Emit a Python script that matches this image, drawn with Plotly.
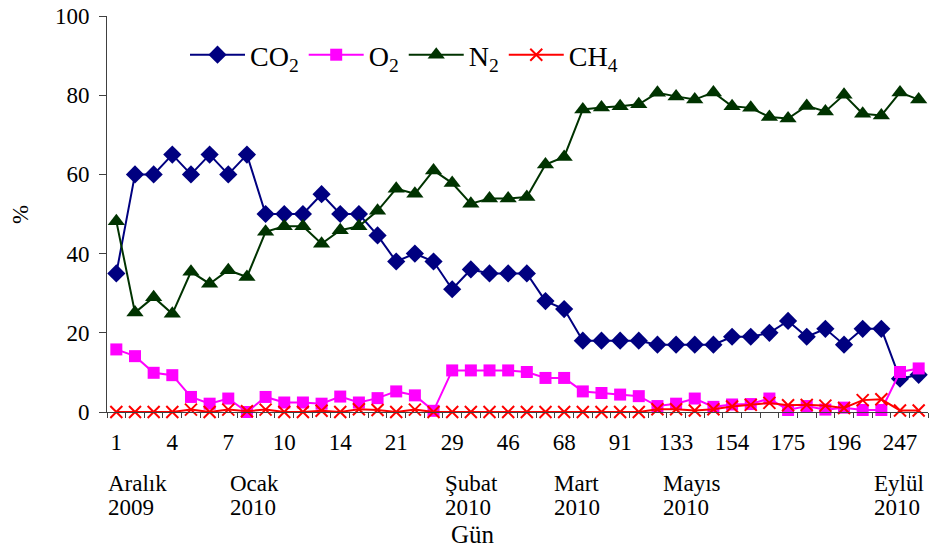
import plotly.graph_objects as go

# Data (44 sampling points; every third one carries a day label)
n_points = 44
tick_labels = ["1", "4", "7", "10", "14", "21", "29", "46", "68", "91",
               "133", "154", "175", "196", "247"]
tick_every = 3

co2 = [35, 60, 60, 65, 60, 65, 60, 65, 50, 50, 50, 55, 50, 50, 44.6, 38, 40, 38, 31, 36, 35, 35, 35,
       28, 26, 18, 18, 18, 18, 17, 17, 17, 17, 19, 19, 20, 23, 19, 21, 17, 21, 21, 8.4, 9.4]
o2 = [15.8, 14.1, 9.9, 9.3, 3.8, 2.1, 3.4, 0, 3.8, 2.4, 2.4, 2.1, 3.9, 2.4, 3.5, 5.2, 4.2, 0.3, 10.5,
      10.5, 10.5, 10.5, 10.1, 8.6, 8.6, 5.2, 4.8, 4.4, 4.0, 1.5, 2.1, 3.4, 1.3, 1.9, 2.0, 3.4, 0.5, 1.5,
      0.6, 1.1, 0.5, 0.5, 10.1, 11]
n2 = [48.2, 25.1, 29, 24.8, 35.4, 32.4, 35.8, 34.1, 45.5, 46.9, 46.9, 42.5, 45.9, 46.9, 50.8, 56.4,
      55.1, 61, 57.8, 52.6, 53.9, 53.9, 54.3, 62.5, 64.4, 76.4, 76.9, 77.2, 77.7, 80.6, 79.7, 78.9,
      80.7, 77.2, 76.8, 74.5, 74.1, 77.3, 75.9, 80.1, 75.3, 74.9, 80.7, 78.9]
ch4 = [0, 0, 0, 0, 0.6, 0, 0.6, 0.2, 0.6, 0, 0, 0.3, 0, 0.7, 0.5, 0, 0.6, 0, 0, 0, 0, 0, 0, 0, 0,
       0, 0, 0, 0, 0.7, 0.7, 0.4, 0.7, 1.4, 1.8, 2.3, 1.7, 1.8, 1.6, 1.0, 3.0, 3.2, 0.4, 0.4]

month_names = ["Aralık", "Ocak", "Şubat", "Mart", "Mayıs", "Eylül"]
month_years = ["2009", "2010", "2010", "2010", "2010", "2010"]
month_pos = [-0.55, 6.0, 17.5, 23.35, 29.2, 40.5]  # in category units

x = list(range(n_points))
FONT = "Liberation Serif, Times New Roman, serif"
FS = 23

fig = go.Figure()
series = [
    ("CO<sub>2</sub>", co2, "#000080", dict(symbol="diamond", size=14)),
    ("O<sub>2</sub>", o2, "#FF00FF", dict(symbol="square", size=12)),
    ("N<sub>2</sub>", n2, "#003300", dict(symbol="triangle-up", size=15)),
    ("CH<sub>4</sub>", ch4, "#FF0000", dict(symbol="x-thin", size=12, line=dict(color="#FF0000", width=2))),
]
for name, vals, color, mk in series:
    m = dict(color=color, **mk)
    fig.add_trace(go.Scatter(x=x, y=vals, name=name, mode="lines+markers",
                             line=dict(color=color, width=2), marker=m, cliponaxis=False))

tickvals = [i * tick_every for i in range(len(tick_labels))]
fig.update_xaxes(range=[-0.5, n_points - 0.5], tickmode="array", tickvals=tickvals,
                 ticktext=tick_labels, ticks="", showline=True, linecolor="#404040", linewidth=1,
                 showgrid=False, zeroline=False, ticklabelstandoff=9,
                 tickfont=dict(family=FONT, size=FS, color="black"),
                 minor=dict(tickmode="array", tickvals=[k - 0.5 for k in range(n_points + 1)],
                            ticks="outside", ticklen=5, tickcolor="#404040", showgrid=False))
fig.update_yaxes(range=[0, 100], tickmode="linear", tick0=0, dtick=20, ticks="outside", ticklen=7,
                 tickcolor="#404040", showline=True, linecolor="#404040", linewidth=1,
                 showgrid=False, zeroline=False, ticklabelstandoff=5,
                 tickfont=dict(family=FONT, size=FS, color="black"))

L, R, T, B = 107, 5, 16, 137
W, H = 933, 549
PW, PH = W - L - R, H - T - B


def px_x(p):
    return (p - L) / PW


def px_y(p):
    return (H - B - p) / PH


annotations = []
for name, year, pos in zip(month_names, month_years, month_pos):
    xp = px_x(L + PW * (pos + 0.5) / n_points)
    for txt, ypix in ((name, 483), (year, 507)):
        annotations.append(dict(x=xp, xref="paper", y=px_y(ypix), yref="paper", text=txt,
                                showarrow=False, xanchor="left", yanchor="middle",
                                font=dict(family=FONT, size=FS, color="black")))
annotations.append(dict(x=px_x(473), xref="paper", y=px_y(534), yref="paper", text="Gün",
                        showarrow=False, xanchor="center", yanchor="middle",
                        font=dict(family=FONT, size=25, color="black")))
annotations.append(dict(x=px_x(20), xref="paper", y=px_y(215), yref="paper", text="%",
                        textangle=-90, showarrow=False, xanchor="center", yanchor="middle",
                        font=dict(family=FONT, size=FS, color="black")))

fig.update_layout(
    width=W, height=H, margin=dict(l=L, r=R, t=T, b=B),
    paper_bgcolor="white", plot_bgcolor="white",
    font=dict(family=FONT, size=FS, color="black"),
    showlegend=True,
    legend=dict(orientation="h", x=px_x(185), xanchor="left", y=px_y(55),
                yanchor="middle", bgcolor="rgba(0,0,0,0)", font=dict(family=FONT, size=28),
                itemwidth=55, tracegroupgap=0),
    annotations=annotations,
)
fig.write_html("out.html")
